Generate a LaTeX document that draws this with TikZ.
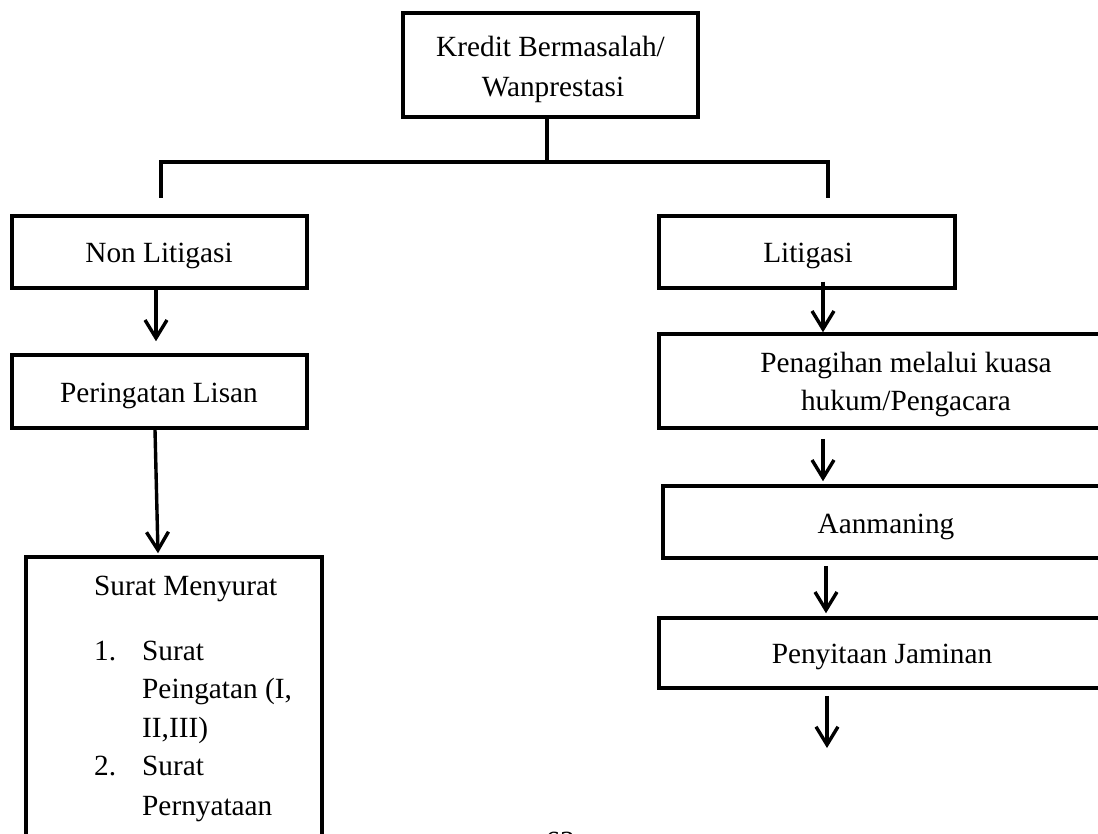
\documentclass[tikz,border=0pt]{standalone}
\usepackage{fontspec}
\setmainfont{Liberation Serif}
\usetikzlibrary{arrows.meta,calc}
\begin{document}
\begin{tikzpicture}[x=1pt,y=-1pt,
  box/.style={draw, line width=3.5pt, rectangle, inner sep=0pt},
  txt/.style={inner sep=0pt, anchor=base, font=\fontsize{29.3}{40}\selectfont},
  ltxt/.style={txt, anchor=base west},
  link/.style={line width=3.5pt},
  arr/.style={line width=3.4pt, -{Straight Barb[length=18pt,width=22pt]}}]
\useasboundingbox (0,0) rectangle (1098,834);
\clip (0,0) rectangle (1098,834);
\fill[white] (0,0) rectangle (1098,834);

% boxes (some run past the page edge)
\node[box, minimum width=295, minimum height=104] (kredit) at (550.5,65) {};
\node[box, minimum width=295, minimum height=72]  (non)    at (159.5,252) {};
\node[box, minimum width=295, minimum height=73]  (per)    at (159.5,391.5) {};
\node[box, minimum width=296, minimum height=443] (surat)  at (174,778.5) {};
\node[box, minimum width=296, minimum height=72]  (lit)    at (807,252) {};
\node[box, minimum width=494, minimum height=94]  (pen)    at (906,381) {};
\node[box, minimum width=446, minimum height=72]  (aan)    at (886,522) {};
\node[box, minimum width=446, minimum height=70]  (sita)   at (882,653) {};

% box texts
\node[txt] (kredit-a) at (550.5,57) {Kredit Bermasalah/};
\node[txt] (kredit-b) at (553,97) {Wanprestasi};
\node[txt] (non-t) at (159,263) {Non Litigasi};
\node[txt] (per-t) at (159,402) {Peringatan Lisan};
\node[txt] (lit-t) at (808,263) {Litigasi};
\node[txt] (pen-a) at (906,373) {Penagihan melalui kuasa};
\node[txt] (pen-b) at (906,410) {hukum/Pengacara};
\node[txt] (aan-t) at (886,533) {Aanmaning};
\node[txt] (sita-t) at (882,663) {Penyitaan Jaminan};

\node[ltxt] (surat-h) at (94,595) {Surat Menyurat};
\node[ltxt] (n1) at (94,660) {1.};
\node[ltxt] (i1a) at (142,660) {Surat};
\node[ltxt] (i1b) at (142,698) {Peingatan (I,};
\node[ltxt] (i1c) at (142,737) {II,III)};
\node[ltxt] (n2) at (94,775) {2.};
\node[ltxt] (i2a) at (142,775) {Surat};
\node[ltxt] (i2b) at (142,815) {Pernyataan};

% page number, running off the lower edge
\node[txt] (page) at (560,851) {63};

% branching from the top box
\coordinate (stem) at (547,162);
\coordinate (barL) at (161,162);
\coordinate (barR) at (828,162);
\coordinate (dropL) at (161,198);
\coordinate (dropR) at (828,198);
\draw[link] (stem |- kredit.south) -- (stem);
\draw[link, line join=miter] (dropL) -- (barL) -- (barR) -- (dropR);

% left column
\draw[arr] ($(non.south)+(-3.5,0)$) -- ($(per.north)+(-3.5,-12)$);
\draw[arr] ($(per.south)+(-4.5,0)$) -- ($(surat.north)+(-16,-2)$);

% right column
\coordinate (endR) at (827,748);
\draw[arr] ($(lit.south)+(16,-8)$) -- ($(pen.north)+(-83,0)$);
\draw[arr] ($(pen.south)+(-83,9)$) -- ($(aan.north)+(-63,-3)$);
\draw[arr] ($(aan.south)+(-60,6)$) -- ($(sita.north)+(-56,-3)$);
\draw[arr] ($(sita.south)+(-55,6)$) -- (endR);
\end{tikzpicture}
\end{document}
